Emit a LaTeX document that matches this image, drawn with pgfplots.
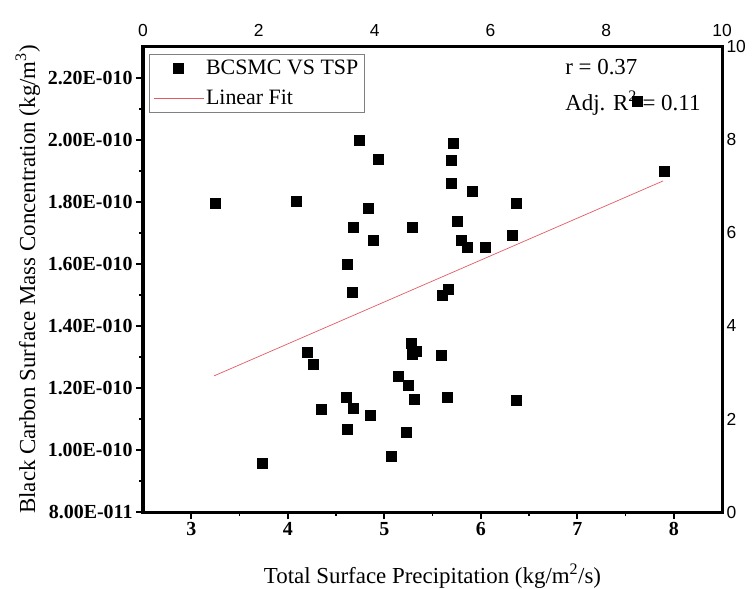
\documentclass[border=0pt]{standalone}
\usepackage{fontspec}
\setmainfont{Liberation Serif}
\newfontfamily\arial{Liberation Sans}
\usepackage{pgfplots}
\pgfplotsset{compat=1.18}
\definecolor{fitred}{RGB}{226,90,100}
\begin{document}
\begin{tikzpicture}
\useasboundingbox (-143bp,-77bp) rectangle (613bp,512bp);
\begin{axis}[
  at={(0,0)}, anchor=south west,
  scale only axis, width=579bp, height=465bp,
  xmin=2.5, xmax=8.5, ymin=8e-11, ymax=2.3e-10,
  scaled y ticks=false,
  tick pos=left, tick align=outside,
  major tick length=7bp, minor tick length=4bp,
  every tick/.style={black, line width=1.8bp},
  xtick={3,4,5,6,7,8}, minor x tick num=1,
  ytick={8e-11,1e-10,1.2e-10,1.4e-10,1.6e-10,1.8e-10,2e-10,2.2e-10},
  yticklabels={8.00E-011,1.00E-010,1.20E-010,1.40E-010,1.60E-010,1.80E-010,2.00E-010,2.20E-010},
  minor y tick num=1,
  /pgf/number format/assume math mode=true,
  xticklabel style={font=\fontsize{20}{24}\selectfont\bfseries},
  yticklabel style={font=\fontsize{20}{24}\selectfont\bfseries},
  xlabel={Total Surface Precipitation (kg/m\textsuperscript{2}/s)},
  ylabel={Black Carbon Surface Mass Concentration (kg/m\textsuperscript{3})},
  xlabel style={font=\fontsize{23}{27}\selectfont, at={(axis description cs:0.5,-0.153)}, anchor=base},
  ylabel style={font=\fontsize{23}{27}\selectfont, at={(axis description cs:-0.1865,0.5)}, anchor=base, rotate=0},
  legend style={at={(0.0104,0.985)}, anchor=north west, draw=gray, line width=0.6bp,
    font=\fontsize{22}{26}\selectfont, inner xsep=4bp, inner ysep=4bp, row sep=10bp},
  legend cell align=left,
  legend image code/.code={\draw[mark repeat=2,mark phase=2,#1] plot coordinates {(0bp,0bp) (25bp,0bp) (50bp,0bp)};},
  clip=false,
]
\addplot[only marks, mark=square*, mark size=5bp, line width=0.5bp, mark options={fill=black, draw=black}] coordinates {
(4.74,2.00e-10) (4.94,1.939e-10) (3.246,1.797e-10) (4.086,1.803e-10) (4.83,1.781e-10)
(4.68,1.719e-10) (4.89,1.677e-10) (4.62,1.60e-10) (4.666,1.51e-10) (5.72,1.99e-10)
(5.69,1.935e-10) (5.69,1.861e-10) (5.91,1.835e-10) (6.365,1.797e-10) (5.29,1.719e-10)
(5.754,1.739e-10) (5.795,1.677e-10) (5.857,1.655e-10) (6.044,1.655e-10) (6.324,1.694e-10)
(7.90,1.90e-10) (5.66,1.519e-10) (5.60,1.50e-10) (4.2,1.316e-10) (4.26,1.277e-10)
(4.345,1.132e-10) (4.61,1.171e-10) (4.676,1.135e-10) (4.86,1.113e-10) (4.62,1.068e-10)
(3.74,0.958e-10) (5.277,1.345e-10) (5.33,1.319e-10) (5.29,1.31e-10) (5.59,1.306e-10)
(5.15,1.239e-10) (5.246,1.21e-10) (5.31,1.165e-10) (5.65,1.171e-10) (6.365,1.161e-10)
(5.225,1.058e-10) (5.07,0.981e-10) (7.62,2.126e-10)
};
\addlegendentry{BCSMC VS TSP}
\addplot[fitred, line width=0.7bp, no marks] coordinates {(3.236,1.239e-10) (7.89,1.868e-10)};
\addlegendentry{Linear Fit}
\node[anchor=base west, font=\fontsize{23}{27}\selectfont, inner sep=0pt] at (rel axis cs:0.729,0.94) {r = 0.37};
\node[anchor=base west, font=\fontsize{23}{27}\selectfont, inner sep=0pt] at (rel axis cs:0.729,0.8645) {Adj. R\textsuperscript{2} = 0.11};
\end{axis}
\begin{axis}[
  at={(0,0)}, anchor=south west,
  scale only axis, width=579bp, height=465bp,
  xmin=0, xmax=10, ymin=0, ymax=10,
  axis x line*=top, axis y line*=right,
  axis line style={draw=none},
  xtick={0,2,4,6,8,10}, ytick={0,2,4,6,8,10},
  major tick length=0pt,
  /pgf/number format/assume math mode=true,
  ticklabel style={font=\arial\fontsize{17.5}{21}\selectfont},
  xticklabel style={yshift=7bp},
  yticklabel style={xshift=1bp},
  clip=false,
]
\addplot[draw=none] coordinates {(0,0)};
\draw[black, line width=3bp, line join=miter] (rel axis cs:0,0) rectangle (rel axis cs:1,1);
\end{axis}
\end{tikzpicture}
\end{document}
